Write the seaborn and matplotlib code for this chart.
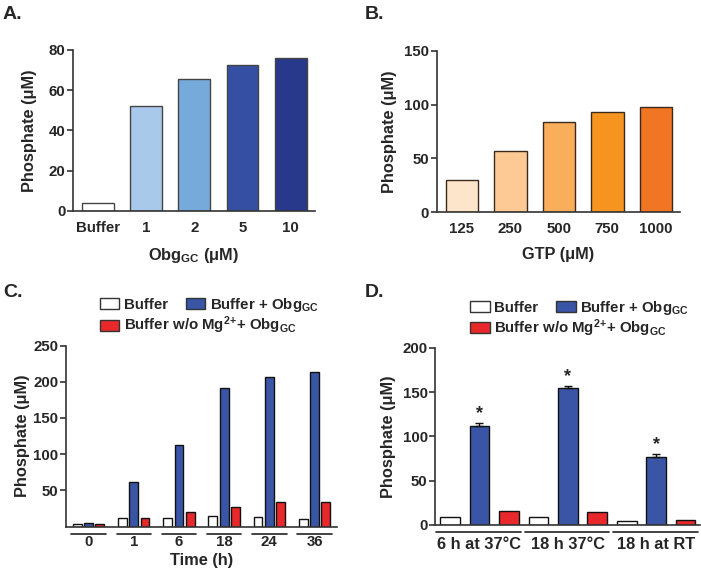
import matplotlib
matplotlib.use("Agg")
import matplotlib.pyplot as plt
import matplotlib.transforms as mtransforms
from matplotlib.patches import Patch
import seaborn as sns
import pandas as pd

# --- data ---
a_labels = ['Buffer', '1', '2', '5', '10']
a_values = [4.1, 52.2, 65.4, 72.5, 75.8]
a_colors = ['#ffffff', '#a8c9e9', '#75aadb', '#3550a3', '#28388a']

b_labels = ['125', '250', '500', '750', '1000']
b_values = [29.4, 57.3, 83.7, 93.0, 98.2]
b_colors = ['#fde5cc', '#fdca96', '#f8ae5b', '#f5951f', '#f07624']

c_times = ['0', '1', '6', '18', '24', '36']
c_buffer = [4, 12, 12.4, 14, 13, 11]
c_obg = [5, 61, 112, 192, 207, 213.5]
c_nomg = [4, 12, 20.5, 26.7, 34.5, 33.6]

d_groups = ['6 h at 37°C', '18 h 37°C', '18 h at RT']
d_buffer = [9.4, 9.0, 4.5]
d_obg = [112, 155, 76.7]
d_obg_err = [3.5, 1.4, 3.0]
d_nomg = [15.8, 14.3, 5.6]

conds = ['Buffer', 'Buffer + Obg$_{\\mathrm{GC}}$',
         'Buffer w/o Mg$^{2}$$^{+}$+ Obg$_{\\mathrm{GC}}$']
cond_colors = ['#ffffff', '#3a55a5', '#e8282b']

# --- style ---
sns.set_style("ticks")
plt.rcParams['font.family'] = ['Liberation Sans', 'DejaVu Sans']
plt.rcParams['font.weight'] = 'bold'
plt.rcParams['axes.labelweight'] = 'bold'
plt.rcParams['mathtext.fontset'] = 'custom'
plt.rcParams['mathtext.rm'] = 'Liberation Sans:bold'
plt.rcParams['mathtext.it'] = 'Liberation Sans:bold'
plt.rcParams['mathtext.bf'] = 'Liberation Sans:bold'
plt.rcParams['axes.edgecolor'] = '#333333'
plt.rcParams['axes.linewidth'] = 1.2

TICK = 10.8
LAB = 11.8

fig = plt.figure(figsize=(7.01, 5.73), dpi=100)
axA = fig.add_axes([0.104, 0.632, 0.345, 0.281])
axB = fig.add_axes([0.623, 0.630, 0.347, 0.281])
axC = fig.add_axes([0.094, 0.081, 0.387, 0.316])
axD = fig.add_axes([0.621, 0.084, 0.378, 0.309])


def style_axis(ax):
    sns.despine(ax=ax)
    ax.tick_params(axis='y', labelsize=TICK, length=4, width=1.2, pad=1.5,
                   color='#333333')
    ax.tick_params(axis='x', length=0)
    for lab in ax.get_xticklabels() + ax.get_yticklabels():
        lab.set_fontweight('bold')


# A
dfA = pd.DataFrame({'x': a_labels, 'y': a_values})
sns.barplot(data=dfA, x='x', y='y', hue='x', palette=a_colors, width=0.66,
            saturation=1, edgecolor='#444444', linewidth=1, legend=False, ax=axA)
axA.set_ylim(0, 80)
axA.set_yticks([0, 20, 40, 60, 80])
axA.set_xlim(-0.52, 4.5)
axA.set_ylabel('Phosphate (μM)', fontsize=LAB, labelpad=8)
axA.set_xlabel('Obg$_{\\mathrm{GC}}$ (μM)', fontsize=LAB, labelpad=8)
axA.tick_params(axis='x', pad=7, labelsize=TICK)
style_axis(axA)

# B
dfB = pd.DataFrame({'x': b_labels, 'y': b_values})
sns.barplot(data=dfB, x='x', y='y', hue='x', palette=b_colors, width=0.67,
            saturation=1, edgecolor='#3a2a1a', linewidth=1, legend=False, ax=axB)
axB.set_ylim(0, 150)
axB.set_yticks([0, 50, 100, 150])
axB.set_xlim(-0.52, 4.5)
axB.set_ylabel('Phosphate (μM)', fontsize=LAB, labelpad=5)
axB.set_xlabel('GTP (μM)', fontsize=LAB, labelpad=8)
axB.tick_params(axis='x', pad=7, labelsize=TICK)
style_axis(axB)

# C
dfC = pd.DataFrame({
    'time': c_times * 3,
    'value': c_buffer + c_obg + c_nomg,
    'cond': [conds[0]] * 6 + [conds[1]] * 6 + [conds[2]] * 6,
})
sns.barplot(data=dfC, x='time', y='value', hue='cond', hue_order=conds,
            palette=cond_colors, width=0.75, gap=0.22, saturation=1,
            edgecolor='#111111', linewidth=1, legend=False, ax=axC)
axC.set_ylim(0, 250)
axC.set_yticks([50, 100, 150, 200, 250])
axC.set_xlim(-0.5, 5.5)
axC.set_ylabel('Phosphate (μM)', fontsize=LAB, labelpad=2)
axC.set_xlabel('Time (h)', fontsize=LAB, labelpad=3)
axC.tick_params(axis='x', pad=6, labelsize=TICK)
style_axis(axC)
trC = mtransforms.blended_transform_factory(axC.transData, axC.transAxes)
for i in range(len(c_times)):
    axC.plot([i - 0.38, i + 0.38], [-0.04, -0.04], transform=trC,
             clip_on=False, color='#222222', lw=1.2)

# D
dfD = pd.DataFrame({
    'grp': d_groups * 3,
    'value': d_buffer + d_obg + d_nomg,
    'cond': [conds[0]] * 3 + [conds[1]] * 3 + [conds[2]] * 3,
})
sns.barplot(data=dfD, x='grp', y='value', hue='cond', hue_order=conds,
            palette=cond_colors, width=1.0, gap=0.33, saturation=1,
            edgecolor='#111111', linewidth=1, legend=False, ax=axD)
obg_bars = axD.containers[1]
xs = [b.get_x() + b.get_width() / 2 for b in obg_bars]
axD.errorbar(xs, d_obg, yerr=[[0] * 3, d_obg_err], fmt='none',
             ecolor='#111111', elinewidth=1, capsize=3, capthick=1)
for x, v, e in zip(xs, d_obg, d_obg_err):
    axD.text(x, v + e + 1, '*', ha='center', va='bottom', fontsize=13,
             fontweight='bold')
axD.set_ylim(0, 200)
axD.set_yticks([0, 50, 100, 150, 200])
axD.set_xlim(-0.5, 2.5)
axD.set_ylabel('Phosphate (μM)', fontsize=LAB, labelpad=5)
axD.set_xlabel('')
axD.tick_params(axis='x', pad=9, labelsize=11.8)
style_axis(axD)
trD = mtransforms.blended_transform_factory(axD.transData, axD.transAxes)
for i in range(len(d_groups)):
    axD.plot([i - 0.49, i + 0.47], [-0.04, -0.04], transform=trD,
             clip_on=False, color='#222222', lw=1.2)

# legends for C and D
handles = [Patch(facecolor=c, edgecolor='#333333', linewidth=1) for c in cond_colors]
for ax, x0 in [(axC, 0.125), (axD, 0.132)]:
    leg1 = ax.legend(handles[:2], conds[:2], ncol=2, loc='lower left',
                     bbox_to_anchor=(x0, 1.175), frameon=False, fontsize=TICK,
                     handlelength=1.3, handleheight=0.75, handletextpad=0.3,
                     columnspacing=1.2, borderpad=0, borderaxespad=0)
    ax.add_artist(leg1)
    ax.legend(handles[2:], conds[2:], loc='lower left',
              bbox_to_anchor=(x0, 1.05), frameon=False, fontsize=TICK,
              handlelength=1.3, handleheight=0.75, handletextpad=0.3,
              borderpad=0, borderaxespad=0)

# panel letters
for x, y, s in [(0.004, 0.975, 'A.'), (0.52, 0.975, 'B.'),
                (0.004, 0.49, 'C.'), (0.52, 0.49, 'D.')]:
    fig.text(x, y, s, fontsize=14, fontweight='bold', va='center', ha='left')

fig.savefig('out.png', dpi=100)
